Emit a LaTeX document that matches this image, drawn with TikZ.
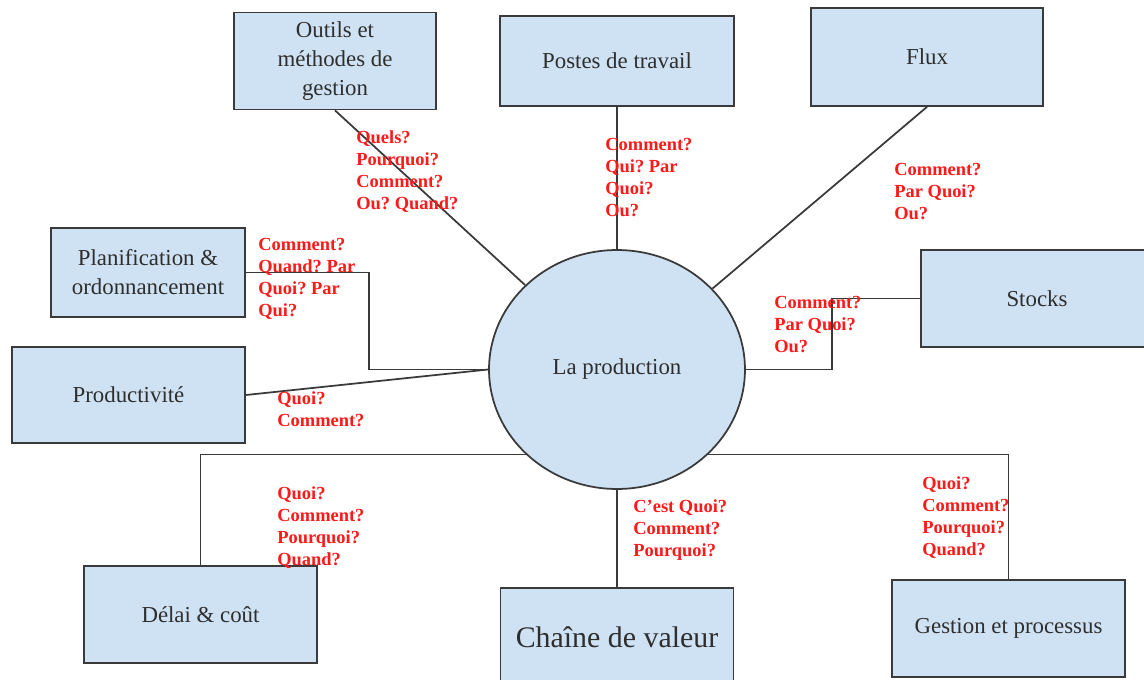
\documentclass[tikz,border=0pt]{standalone}
\usepackage{fontspec}
\setmainfont{Liberation Serif}
\usetikzlibrary{shapes.geometric}
\definecolor{boxblue}{HTML}{CFE2F3}
\definecolor{edgegray}{HTML}{3A3A3A}
\definecolor{textgray}{HTML}{2E2E2E}
\definecolor{qred}{HTML}{FF1A1A}

\begin{document}
\begin{tikzpicture}[x=0.02cm,y=-0.02cm,
  bloc/.style={draw=edgegray,line width=1pt,fill=boxblue,text=textgray,align=center,
    font=\fontsize{13}{16.5}\selectfont,inner sep=0pt},
  quest/.style={text=qred,align=left,anchor=north west,inner sep=0pt,
    font=\fontsize{10.5}{12.5}\selectfont\bfseries\frenchspacing},
  lien/.style={draw=edgegray,line width=1pt}]
\clip (0,0) rectangle (1144,680);
\node[ellipse,draw=edgegray,line width=1pt,fill=boxblue,text=textgray,
  minimum width=5.12cm,minimum height=4.78cm,font=\fontsize{13}{16.5}\selectfont]
  (prod) at (617,369.5) {\raisebox{-2.5pt}{La production}};
\node[bloc,minimum width=4.04cm,minimum height=1.94cm] (outils) at (335,61) {\raisebox{-2pt}{Outils et}\\\raisebox{-2pt}{méthodes de}\\\raisebox{-2pt}{gestion}};
\node[bloc,minimum width=4.68cm,minimum height=1.80cm] (postes) at (617,61) {Postes de travail};
\node[bloc,minimum width=4.64cm,minimum height=1.96cm] (flux) at (927,57) {Flux};
\node[bloc,minimum width=3.88cm,minimum height=1.78cm] (planif) at (148,272.5) {Planification \&\\ordonnancement};
\node[bloc,minimum width=4.66cm,minimum height=1.92cm] (productivite) at (128.5,395) {Productivité};
\node[bloc,minimum width=4.64cm,minimum height=1.94cm] (stocks) at (1037,298.5) {Stocks};
\node[bloc,minimum width=4.66cm,minimum height=1.94cm] (delai) at (200.5,614.5) {Délai \& coût};
\node[bloc,minimum width=4.66cm,minimum height=1.96cm,font=\fontsize{17}{20}\selectfont] (chaine) at (617,637) {Chaîne de valeur};
\node[bloc,minimum width=4.66cm,minimum height=1.94cm] (gestion) at (1008.5,628.5) {Gestion et processus};

% liens vers le centre
\draw[lien] (outils.south) -- (prod);
\draw[lien] (postes) -- (prod);
\draw[lien] (flux.south) -- (prod);
\draw[lien] (stocks.west) -- ++(-88,0) |- (prod.east);
\draw[lien] (planif.east) -- ++(123,0) |- (prod.west);
\draw[lien] (productivite.east) -- (prod.west);
\draw[lien] (prod.south west) -| (delai.north);
\draw[lien] (prod.south) -- (chaine.north);
\draw[lien] (prod.south east) -| (gestion.north);

% questions
\node[quest] (qoutils) at (356,130) {Quels?\\Pourquoi?\\Comment?\\Ou? Quand?};
\node[quest] (qpostes) at (605,138) {Comment?\\Qui? Par\\Quoi?\\Ou?};
\node[quest] (qflux) at (894,163) {Comment?\\Par Quoi?\\Ou?};
\node[quest] (qplanif) at (258,238) {Comment?\\Quand? Par\\Quoi? Par\\Qui?};
\node[quest] (qstocks) at (774,296) {Comment?\\Par Quoi?\\Ou?};
\node[quest] (qprod) at (277,391) {Quoi?\\Comment?};
\node[quest] (qdelai) at (277,486) {Quoi?\\Comment?\\Pourquoi?\\Quand?};
\node[quest] (qchaine) at (633,499) {C’est Quoi?\\Comment?\\Pourquoi?};
\node[quest] (qgestion) at (922,476) {Quoi?\\Comment?\\Pourquoi?\\Quand?};
\end{tikzpicture}
\end{document}
